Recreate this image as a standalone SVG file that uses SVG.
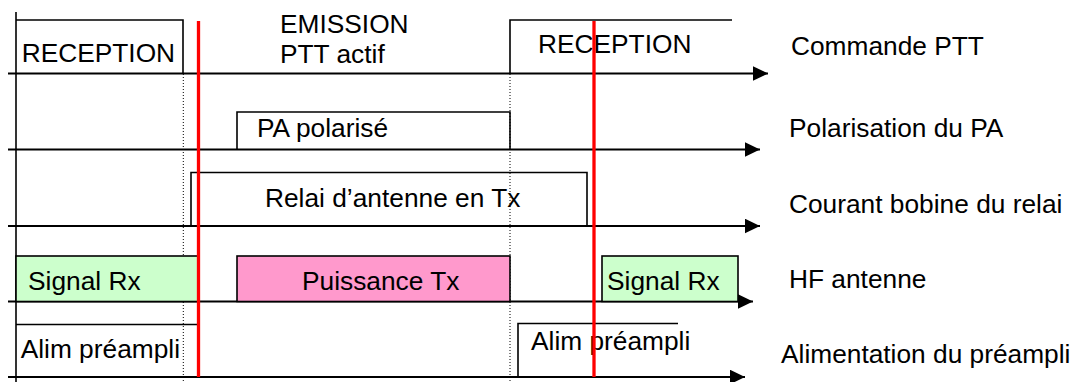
<svg xmlns="http://www.w3.org/2000/svg" width="1079" height="382" viewBox="0 0 1079 382">
  <style>
    text { font-family: "Liberation Sans", Arial, sans-serif; font-size: 26.3px; fill: #000; }
    .sig { fill: none; stroke: #000; stroke-width: 1.6; }
    .axis { fill: none; stroke: #000; stroke-width: 1.8; marker-end: url(#arrow); }
    .dot { fill: none; stroke: #000; stroke-width: 1; stroke-dasharray: 1 2; }
    .cut { fill: none; stroke: #ff0000; stroke-width: 3.3; }
    .rx { fill: #ccffcc; stroke: #000; stroke-width: 1.6; }
    .tx { fill: #ff99cc; stroke: #000; stroke-width: 1.6; }
  </style>
  <defs>
    <marker id="arrow" markerUnits="userSpaceOnUse" markerWidth="16" markerHeight="15" refX="15.5" refY="7.5" orient="auto">
      <path d="M0,0 L15.5,7.5 L0,15 z" fill="#000"/>
    </marker>
  </defs>
  <rect width="1079" height="382" fill="#fff"/>

  <!-- time axes -->
  <g id="connectors">
    <line class="axis" x1="8" y1="73.5" x2="768" y2="73.5"/>
    <line class="axis" x1="8" y1="149.5" x2="760" y2="149.5"/>
    <line class="axis" x1="8" y1="226" x2="760" y2="226"/>
    <line class="axis" x1="8" y1="301.5" x2="753" y2="301.5"/>
    <line class="axis" x1="8" y1="377" x2="745" y2="377"/>
    <line class="sig" x1="16" y1="12" x2="16" y2="382"/>
    <line class="dot" x1="183.3" y1="74" x2="183.3" y2="382"/>
    <line class="dot" x1="510" y1="74" x2="510" y2="382"/>
  </g>

  <!-- PTT command -->
  <g id="ptt">
    <path class="sig" d="M16,20 H183 V73.5"/>
    <path class="sig" d="M510,73.5 V20 H732"/>
    <text x="21.7" y="61.7">RECEPTION</text>
    <text x="280" y="33">EMISSION</text>
    <text x="280" y="62.5">PTT actif</text>
    <text x="538" y="53">RECEPTION</text>
  </g>

  <!-- PA bias -->
  <g id="pa">
    <path class="sig" d="M237,149.5 V112 H510 V149.5"/>
    <text x="257" y="137">PA polarisé</text>
  </g>

  <!-- antenna relay coil -->
  <g id="relai">
    <path class="sig" d="M191,226 V172.5 H587 V226"/>
    <text x="265" y="207">Relai d’antenne en Tx</text>
  </g>

  <!-- RF at the antenna -->
  <g id="hf">
    <rect class="rx" x="16" y="256" width="182" height="45.5"/>
    <rect class="tx" x="237" y="256" width="273" height="45.5"/>
    <rect class="rx" x="602" y="256" width="136" height="45.5"/>
    <text x="28" y="290">Signal Rx</text>
    <text x="302" y="290">Puissance Tx</text>
    <text x="607" y="290">Signal Rx</text>
  </g>

  <!-- preamp supply -->
  <g id="preampli">
    <path class="sig" d="M16,324.5 H197"/>
    <path class="sig" d="M518,377 V323.5 H678"/>
    <text x="20.7" y="358">Alim préampli</text>
    <text x="531" y="350">Alim préampli</text>
  </g>

  <!-- signal names -->
  <g id="labels">
    <text x="791" y="55">Commande PTT</text>
    <text x="789" y="137">Polarisation du PA</text>
    <text x="789" y="213">Courant bobine du relai</text>
    <text x="789" y="288">HF antenne</text>
    <text x="781" y="363">Alimentation du préampli</text>
  </g>

  <!-- switching instants -->
  <g id="instants">
    <line class="cut" x1="198.5" y1="21" x2="198.5" y2="377"/>
    <line class="cut" x1="594" y1="21" x2="594" y2="377"/>
  </g>
</svg>
